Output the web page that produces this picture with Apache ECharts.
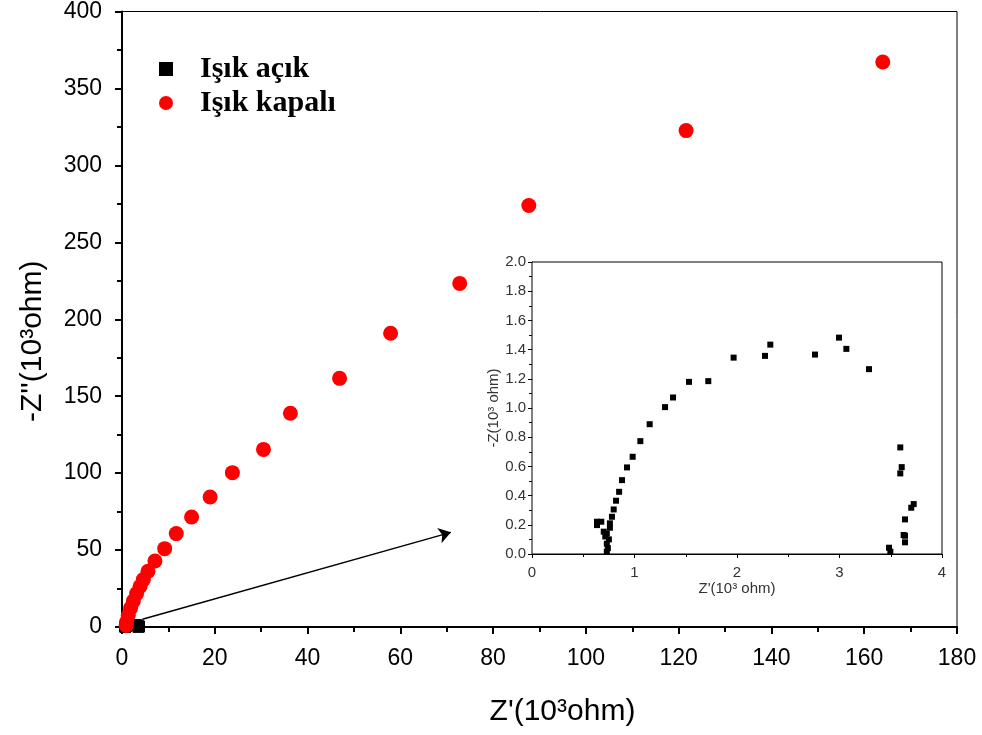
<!DOCTYPE html>
<html>
<head>
<meta charset="utf-8">
<script src="https://cdn.jsdelivr.net/npm/echarts@6/dist/echarts.min.js"></script>
<style>html,body{margin:0;padding:0;background:#fff;}#c{width:982px;height:735px;}</style>
</head>
<body>
<div id="c"></div>
<script>
// Işık kapalı (red circles), Z' and -Z'' in 10^3 ohm
const kapaliX = [0.9, 1.0, 1.35, 1.85, 2.45, 3.15, 3.9, 4.6, 5.6, 7.1, 9.2, 11.7, 15.0, 19.0, 23.8, 30.5, 36.3, 46.9, 57.9, 72.8, 87.7, 121.6, 164.0];
const kapaliY = [1.0, 3.3, 7.6, 12.3, 16.9, 21.7, 26.4, 30.8, 36.2, 42.9, 50.9, 60.7, 71.5, 84.5, 100.3, 115.4, 138.9, 161.6, 190.9, 223.3, 273.9, 322.6, 367.2];
// Işık açık (black squares), Z' and -Z'' in 10^3 ohm
const acikX = [0.634, 0.634, 0.676, 0.70, 0.73, 0.715, 0.73, 0.74, 0.73, 0.75, 0.76, 0.76, 0.78, 0.797, 0.82, 0.85, 0.878, 0.927, 0.982, 1.057, 1.148, 1.298, 1.376, 1.532, 1.72, 1.967, 2.273, 2.325, 2.761, 2.995, 3.067, 3.288, 3.593, 3.607, 3.593, 3.724, 3.70, 3.639, 3.626, 3.639, 3.639, 3.483, 3.496];
const acikY = [0.221, 0.198, 0.221, 0.153, 0.14, 0.12, 0.07, 0.04, 0.016, 0.10, 0.18, 0.21, 0.255, 0.305, 0.365, 0.426, 0.506, 0.593, 0.666, 0.773, 0.889, 1.006, 1.072, 1.179, 1.184, 1.345, 1.357, 1.434, 1.366, 1.482, 1.405, 1.266, 0.730, 0.595, 0.552, 0.342, 0.317, 0.237, 0.13, 0.125, 0.08, 0.043, 0.016];
// annotation arrow (data coords of the main plot)
const arrowStart = [4.4, 5.0];
const arrowEnd = [70.9, 61.5];
const seriesNames = ['Işık açık', 'Işık kapalı'];

const zip = (a, b) => a.map((v, i) => [v, b[i]]);

const chart = echarts.init(document.getElementById('c'), null, {renderer: 'canvas'});
const mainFont = 'Liberation Sans, Arial, sans-serif';
chart.setOption({
  animation: false,
  backgroundColor: '#fff',
  legend: {
    left: 154, top: 49, orient: 'vertical', itemGap: 4,
    itemWidth: 14, itemHeight: 14,
    textStyle: {fontFamily: 'Liberation Serif, Times New Roman, serif', fontWeight: 'bold', fontSize: 30, color: '#000', padding: [0, 0, 0, 22]},
    data: [{name: seriesNames[0], icon: 'rect'}, {name: seriesNames[1], icon: 'circle'}]
  },
  grid: [
    {left: 122, top: 11, width: 835, height: 616, show: true, borderColor: '#000', borderWidth: 1, backgroundColor: 'transparent'},
    {left: 532, top: 262, width: 410, height: 292, show: true, borderColor: '#000', borderWidth: 1, backgroundColor: '#fff', z: 5}
  ],
  xAxis: [
    {gridIndex: 0, type: 'value', min: 0, max: 180, interval: 20,
     axisLine: {lineStyle: {color: '#000', width: 2}},
     axisTick: {length: 7, lineStyle: {width: 2, color: '#000'}},
     minorTick: {show: true, splitNumber: 2, length: 5, lineStyle: {width: 2, color: '#000'}},
     splitLine: {show: false},
     axisLabel: {fontSize: 23, color: '#000', fontFamily: mainFont, margin: 20},
     name: "Z'(10³ohm)", nameLocation: 'middle', nameGap: 70,
     nameTextStyle: {fontSize: 30, color: '#000', fontFamily: mainFont, padding: [0, 0, 0, 46]}},
    {gridIndex: 1, type: 'value', min: 0, max: 4, interval: 1,
     axisLine: {lineStyle: {color: '#000', width: 1}},
     axisTick: {length: 4, lineStyle: {width: 1, color: '#000'}},
     minorTick: {show: true, splitNumber: 2, length: 3, lineStyle: {width: 1, color: '#000'}},
     splitLine: {show: false},
     axisLabel: {fontSize: 15, color: '#333', fontFamily: mainFont, margin: 11},
     name: "Z'(10³ ohm)", nameLocation: 'middle', nameGap: 27,
     nameTextStyle: {fontSize: 15, color: '#333', fontFamily: mainFont}},
  ],
  yAxis: [
    {gridIndex: 0, type: 'value', min: 0, max: 400, interval: 50,
     axisLine: {lineStyle: {color: '#000', width: 2}},
     axisTick: {length: 7, lineStyle: {width: 2, color: '#000'}},
     minorTick: {show: true, splitNumber: 2, length: 5, lineStyle: {width: 2, color: '#000'}},
     splitLine: {show: false},
     axisLabel: {fontSize: 23, color: '#000', fontFamily: mainFont, margin: 20},
     name: "-Z''(10³ohm)", nameLocation: 'middle', nameGap: 74, nameRotate: 90,
     nameTextStyle: {fontSize: 30, color: '#000', fontFamily: mainFont, padding: [0, 44, 0, 0]}},
    {gridIndex: 1, type: 'value', min: 0, max: 2, interval: 0.2,
     axisLine: {lineStyle: {color: '#000', width: 1}},
     axisTick: {length: 4, lineStyle: {width: 1, color: '#000'}},
     minorTick: {show: true, splitNumber: 2, length: 3, lineStyle: {width: 1, color: '#000'}},
     splitLine: {show: false},
     axisLabel: {fontSize: 15, color: '#333', fontFamily: mainFont, margin: 6, formatter: v => v.toFixed(1)},
     name: '-Z(10³ ohm)', nameLocation: 'middle', nameGap: 26, nameRotate: 90,
     nameTextStyle: {fontSize: 15, color: '#333', fontFamily: mainFont}}
  ],
  series: [
    {name: seriesNames[0], type: 'scatter', xAxisIndex: 0, yAxisIndex: 0, symbol: 'rect', symbolSize: 11,
     itemStyle: {color: '#000', opacity: 1}, data: zip(acikX, acikY), z: 2,
     markLine: {silent: true, symbol: ['none', 'arrow'], symbolSize: 12, animation: false,
       lineStyle: {color: '#000', width: 1.5, type: 'solid'}, label: {show: false},
       data: [[{coord: arrowStart}, {coord: arrowEnd}]]}},
    {name: seriesNames[1], type: 'scatter', xAxisIndex: 0, yAxisIndex: 0, symbol: 'circle', symbolSize: 15,
     itemStyle: {color: '#ff0000', opacity: 1}, data: zip(kapaliX, kapaliY), z: 3},
    {name: seriesNames[0], type: 'scatter', xAxisIndex: 1, yAxisIndex: 1, symbol: 'rect', symbolSize: 6,
     itemStyle: {color: '#000', opacity: 1}, data: zip(acikX, acikY), z: 6}
  ]
});
</script>
</body>
</html>
